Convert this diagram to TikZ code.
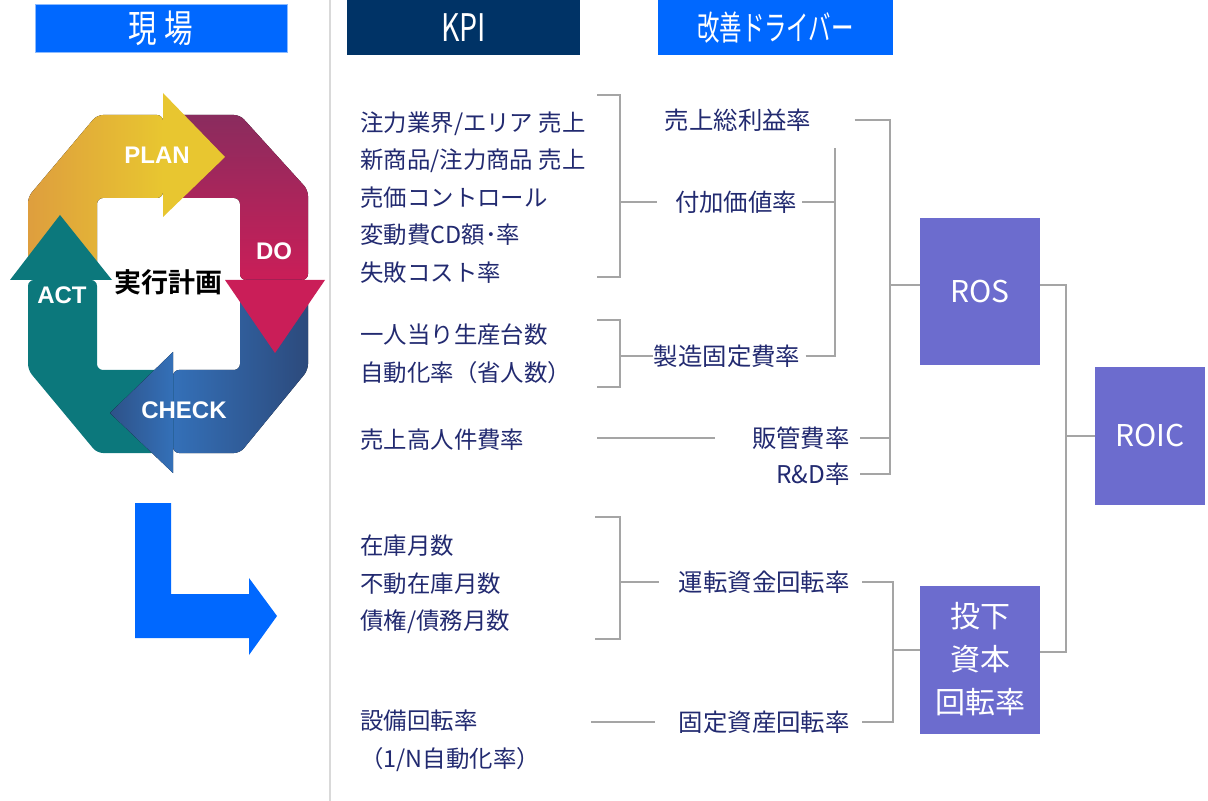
\documentclass[tikz,border=0pt]{standalone}
\usepackage{fontspec}
\setmainfont{Noto Sans CJK JP}[BoldFont={Noto Sans CJK JP Bold}]
\newfontfamily\narrowfont{Noto Sans CJK JP}[FakeStretch=0.75]
\newfontfamily\tightfont{Noto Sans CJK JP}[FakeStretch=0.66]
\newfontfamily\cyclefont{Liberation Sans}
\usetikzlibrary{positioning}
\definecolor{inkblue}{RGB}{34,42,112}
\definecolor{hdrblue}{RGB}{0,104,255}
\definecolor{hdrnavy}{RGB}{0,51,102}
\definecolor{boxviolet}{RGB}{108,108,206}
\definecolor{linkgray}{RGB}{165,165,165}
\definecolor{plorange}{RGB}{222,158,62}
\definecolor{plyellow}{RGB}{232,198,48}
\definecolor{domauve}{RGB}{138,44,94}
\definecolor{docrimson}{RGB}{202,30,88}
\definecolor{ckdark}{RGB}{44,74,124}
\definecolor{ckblue}{RGB}{52,112,184}
\definecolor{actteal}{RGB}{12,120,124}
\tikzset{
header/.style={text=white, inner sep=0pt}, % column titles
kpi/.style={anchor=west, align=left, text=inkblue, inner sep=0pt,
  font=\fontsize{11.7}{18.8}\selectfont},
driver/.style={text=inkblue, inner sep=0pt, font=\fontsize{12.2}{15}\selectfont},
metric/.style={fill=boxviolet, text=white, align=center,
  font=\fontsize{15}{21.5}\selectfont},
pdca/.style={text=white, font=\cyclefont\bfseries\fontsize{12}{14}\selectfont},
link/.style={draw=linkgray, line width=0.8pt},
}

\begin{document}
\begin{tikzpicture}[x=0.5pt,y=-0.5pt]
\useasboundingbox (0,0) rectangle (1208,801);
\draw[gray!30, line width=1pt] (330,0) -- (330,801);

% column titles
\node[header, fill=hdrblue, draw=hdrblue!45, minimum width=126pt, minimum height=24pt,
  font=\narrowfont\fontsize{19}{20}\selectfont] (genba) at (161,28) {現\hspace{4pt}場};
\node[header, fill=hdrnavy, minimum width=116.5pt, minimum height=27.5pt,
  font=\narrowfont\fontsize{19}{20}\selectfont] (kpihdr) at (463.5,27.5) {KPI};
\node[header, fill=hdrblue, minimum width=117.5pt, minimum height=27.5pt,
  font=\tightfont\fontsize{17}{19}\selectfont] (kaizen) at (775.5,27.5) {改善ドライバー};

% PDCA ring, the four bands first and the arrow heads over them
\fill[left color=plorange, right color=plyellow, rounded corners=3pt]
  (28,280) -- (28,197) -- (97,115) -- (163,115) -- (163,198) -- (97,198) -- (97,280) -- cycle;
\fill[top color=domauve, bottom color=docrimson, rounded corners=3pt]
  (163,115) -- (240,115) -- (308,190) -- (308,280) -- (240,280) -- (240,198) -- (163,198) -- cycle;
\fill[left color=ckblue, right color=ckdark, rounded corners=3pt]
  (308,280) -- (308,370) -- (240,453) -- (173,453) -- (173,370) -- (240,370) -- (240,280) -- cycle;
\fill[actteal, rounded corners=3pt]
  (173,453) -- (97,453) -- (28,370) -- (28,280) -- (97,280) -- (97,370) -- (173,370) -- cycle;
\fill[plyellow] (163,93) -- (225,157) -- (163,217) -- cycle;
\fill[docrimson] (225,280) -- (325,280) -- (275,353) -- cycle;
\fill[left color=ckdark!80!ckblue, right color=ckblue] (173,352) -- (110,413) -- (173,473) -- cycle;
\fill[actteal] (10,280) -- (60,215) -- (112,280) -- cycle;
\node[pdca] (plan) at (157,155) {PLAN};
\node[pdca] (do) at (274,251) {DO};
\node[pdca] (check) at (184,410) {CHECK};
\node[pdca] (act) at (62,295) {ACT};
\node[font=\bfseries\fontsize{13.5}{15}\selectfont] (jikko) at (168,282) {実行計画};

% hand-over arrow
\fill[hdrblue] (135,503) -- (171,503) -- (171,594) -- (249,594) -- (249,578) -- (277,616)
  -- (249,655) -- (249,638) -- (135,638) -- cycle;

% KPI column
\node[kpi] (k1) at (360,197.5) {注力業界/エリア 売上\\新商品/注力商品 売上\\売価コントロール\\変動費CD額･率\\失敗コスト率};
\node[kpi] (k2) at (360,354) {一人当り生産台数\\自動化率（省人数）};
\node[kpi] (k3) at (360,440) {売上高人件費率};
\node[kpi] (k4) at (360,584.5) {在庫月数\\不動在庫月数\\債権/債務月数};
\node[kpi] (k5) at (360,741) {設備回転率\\（1/N自動化率）};

% drivers
\node[driver] (gross) at (738,120) {売上総利益率};
\node[driver] (added) at (736,202) {付加価値率};
\node[driver] (mfix) at (727,356) {製造固定費率};
\node[driver, anchor=east] (sga) at (850,438) {販管費率};
\node[driver, anchor=east] (rnd) at (850,474) {R\&D率};
\node[driver, anchor=east] (wcap) at (850,582) {運転資金回転率};
\node[driver, anchor=east] (fixed) at (850,722) {固定資産回転率};

% ratio boxes
\node[metric, minimum width=60pt, minimum height=73.5pt] (ros) at (980,291.5) {ROS};
\node[metric, minimum width=55pt, minimum height=69pt] (roic) at (1150,436) {ROIC};
\node[metric, minimum width=60pt, minimum height=74pt] (ic) at (980,659.5) {投下\\資本\\回転率};

% spines of the tree
\coordinate (kj) at (620,0);
\coordinate (gj) at (835,148);
\coordinate (rosj) at (890,0);
\coordinate (icj) at (893,0);
\coordinate (roicj) at (1066,0);
\coordinate (k3e) at (597,438);
\coordinate (k5e) at (591,722);

% KPI -> driver
\draw[link] (597,95) -| (620,277) -- (597,277);
\draw[link] (added.west -| kj) -- ([xshift=-9pt]added.west);
\draw[link] (597,320) -| (620,387) -- (597,387);
\draw[link] (mfix.west -| kj) -- (mfix.west);
\draw[link] (k3e) -- ([xshift=-18.5pt]sga.west);
\draw[link] (595,517) -| (620,639) -- (595,639);
\draw[link] (wcap.west -| kj) -- ([xshift=-9.5pt]wcap.west);
\draw[link] (k5e) -- ([xshift=-11.5pt]fixed.west);

% driver -> ratio
\draw[link] ([xshift=2.5pt]mfix.east) -| (gj);
\draw[link] ([xshift=2.5pt]added.east) -- (added.east -| gj);
\draw[link] ([xshift=21.5pt]gross.east) -| (rnd.east -| rosj) -- ([xshift=5pt]rnd.east);
\draw[link] ([xshift=5pt]sga.east) -- (sga.east -| rosj);
\draw[link] ([yshift=3.25pt]ros.west -| rosj) -- ([yshift=3.25pt]ros.west);
\draw[link] ([xshift=6pt]wcap.east) -| (fixed.east -| icj) -- ([xshift=6pt]fixed.east);
\draw[link] ([yshift=4.75pt]ic.west -| icj) -- ([yshift=4.75pt]ic.west);
\draw[link] ([yshift=3.25pt]ros.east) -| ([yshift=3.75pt]ic.east -| roicj) -- ([yshift=3.75pt]ic.east);
\draw[link] (roic.west -| roicj) -- (roic.west);
\end{tikzpicture}
\end{document}
